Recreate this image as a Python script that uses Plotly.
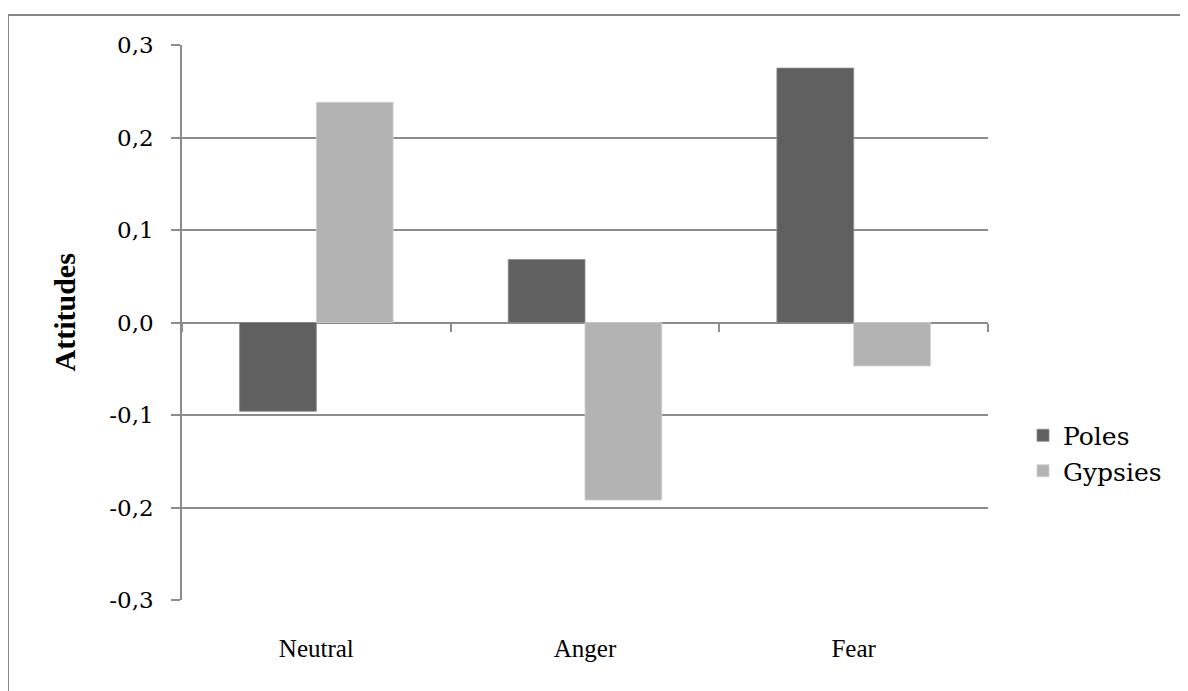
import plotly.graph_objects as go

categories = ["Neutral", "Anger", "Fear"]
poles = [-0.096, 0.068, 0.275]
gypsies = [0.238, -0.192, -0.047]
y_ticks = [0.3, 0.2, 0.1, 0.0, -0.1, -0.2, -0.3]
y_tick_labels = ["0,3", "0,2", "0,1", "0,0", "-0,1", "-0,2", "-0,3"]

W, H = 1188, 691
# page body adds an 8px offset; margins compensate so the plot area lands where the reference has it
L, R, T, B = 174, 208, 37, 99
pw, ph = W - L - R, H - T - B

fig = go.Figure()
fig.add_trace(go.Bar(name="Poles", x=categories, y=poles, marker_color="#606060",
                     marker_line=dict(color="#8a8a8a", width=0.8)))
fig.add_trace(go.Bar(name="Gypsies", x=categories, y=gypsies, marker_color="#b3b3b3",
                     marker_line=dict(color="#cfcfcf", width=0.8)))

grid = "#8c8c8c"
fig.update_layout(
    width=W, height=H,
    margin=dict(l=L, r=R, t=T, b=B),
    paper_bgcolor="white", plot_bgcolor="white",
    barmode="group", bargap=1.5 / 3.5, bargroupgap=0,
    font=dict(family="DejaVu Serif", size=22, color="black"),
    showlegend=True,
    legend=dict(x=(1015 - L) / pw, xanchor="left", y=(H - B - 445) / ph, yanchor="middle",
                font=dict(family="DejaVu Serif", size=25), bgcolor="rgba(0,0,0,0)",
                itemwidth=30),
    xaxis=dict(type="category", categoryarray=categories, range=[-0.5, 2.5],
               showline=False, showgrid=False, zeroline=False, ticks="",
               tickfont=dict(family="Liberation Serif", size=25), ticklabelstandoff=31),
    xaxis2=dict(overlaying="x", anchor="free", position=0.5, range=[-0.5, 2.5],
                tickvals=[-0.5, 0.5, 1.5, 2.5], ticks="outside", ticklen=8, tickwidth=1.5,
                tickcolor=grid, showticklabels=False, showgrid=False, zeroline=False,
                showline=False),
    yaxis=dict(range=[-0.3, 0.3], tickvals=y_ticks, ticktext=y_tick_labels,
               showgrid=True, gridcolor=grid, gridwidth=1.5,
               zeroline=True, zerolinecolor=grid, zerolinewidth=1.5,
               showline=True, linecolor=grid, linewidth=1.5,
               ticks="outside", ticklen=9, tickwidth=1.5, tickcolor=grid,
               ticklabelstandoff=13, tickfont=dict(family="DejaVu Serif", size=23)),
    annotations=[dict(text="Attitudes", textangle=-90, xref="paper", yref="paper",
                      x=(56 - L) / pw, xanchor="center", y=0.5, yanchor="middle", yshift=10,
                      showarrow=False,
                      font=dict(family="Liberation Serif", size=30, weight="bold"))],
    shapes=[dict(type="rect", xref="paper", yref="paper",
                 x0=(0 - L) / pw, x1=(W + 20 - L) / pw,
                 y0=-(B + 20) / ph, y1=1 + (T - 7) / ph,
                 line=dict(color="#878787", width=2), fillcolor="rgba(0,0,0,0)", layer="below")],
)
# invisible trace that activates the overlaid axis drawing the category ticks on the zero line
fig.add_trace(go.Scatter(x=[0], y=[0], xaxis="x2", mode="markers", marker=dict(opacity=0),
                         showlegend=False, hoverinfo="skip"))

fig.write_html("out.html")
